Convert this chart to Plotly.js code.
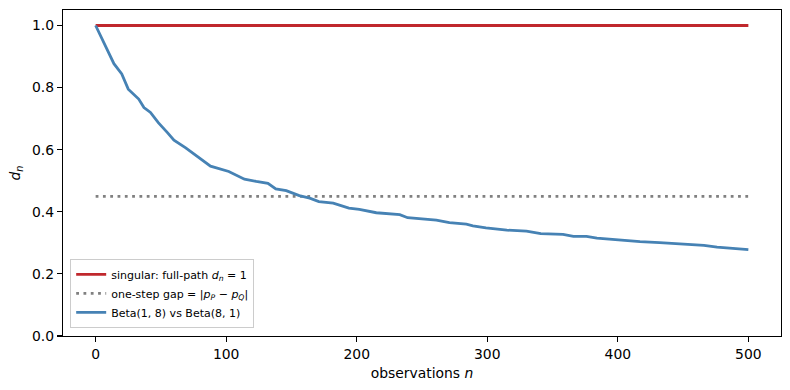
<!DOCTYPE html>
<html>
<head>
<meta charset="utf-8">
<script src="https://cdn.plot.ly/plotly-3.0.1.min.js"></script>
<style>html,body{margin:0;padding:0;background:#fff;}#chart{width:790px;height:390px;}</style>
</head>
<body>
<div id="chart"></div>
<script>
// Blue sample path: Beta(1,8) vs Beta(8,1)
const betaN = [0, 6, 14, 20, 25, 33, 37, 42, 48, 55, 60, 69, 79, 88, 102, 107, 114, 123, 132, 138, 146, 156, 164, 171, 182, 194, 202, 215, 233, 239, 261, 271, 284, 289, 299, 315, 330, 341, 358, 366, 376, 384, 402, 417, 432, 445, 453, 466, 476, 486, 500];
const betaD = [1.0, 0.947, 0.877, 0.844, 0.795, 0.763, 0.736, 0.72, 0.687, 0.655, 0.631, 0.606, 0.574, 0.547, 0.53, 0.519, 0.505, 0.498, 0.492, 0.474, 0.468, 0.452, 0.444, 0.433, 0.428, 0.412, 0.408, 0.397, 0.391, 0.381, 0.373, 0.365, 0.36, 0.355, 0.348, 0.341, 0.338, 0.33, 0.327, 0.321, 0.321, 0.315, 0.308, 0.304, 0.301, 0.298, 0.294, 0.292, 0.286, 0.282, 0.278];
// Singular full-path line and one-step gap
const singularN = [0, 500];
const singularD = [1, 1];
const gapN = [0, 500];
const gapD = [0.45, 0.45];
const xTicks = [0, 100, 200, 300, 400, 500];
const yTicks = [0, 0.2, 0.4, 0.6, 0.8, 1.0];

const traces = [
  {x: singularN, y: singularD, mode: 'lines', name: 'singular: full-path <i>d</i><sub><i>n</i></sub> = 1',
   line: {color: '#c0282d', width: 2.8}},
  {x: gapN, y: gapD, mode: 'lines', name: 'one-step gap = |<i>p</i><sub><i>P</i></sub> − <i>p</i><sub><i>Q</i></sub>|',
   line: {color: '#808080', width: 2.8, dash: '2.8px,4.5px'}},
  {x: betaN, y: betaD, mode: 'lines', name: 'Beta(1, 8) vs Beta(8, 1)',
   line: {color: '#4682b4', width: 2.8}}
];

const axisCommon = {
  showgrid: false, zeroline: false, showline: true, mirror: true,
  linecolor: '#000', linewidth: 1.1, ticks: 'outside', ticklen: 5, tickwidth: 1.1, tickcolor: '#000',
  tickfont: {size: 13.9, color: '#000'}
};

const layout = {
  width: 790, height: 390,
  margin: {l: 63, r: 9, t: 10, b: 54},
  paper_bgcolor: '#fff', plot_bgcolor: '#fff',
  font: {family: 'DejaVu Sans', size: 13.9, color: '#000'},
  showlegend: true,
  xaxis: Object.assign({}, axisCommon, {
    range: [-25, 525], tickvals: xTicks, ticktext: xTicks.map(String),
    title: {text: 'observations <i>n</i>', font: {size: 13.9}, standoff: 7}
  }),
  yaxis: Object.assign({}, axisCommon, {
    range: [0, 1.05], tickvals: yTicks, ticktext: yTicks.map(v => v.toFixed(1)),
    title: {text: '<i>d</i><sub><i>n</i></sub>', font: {size: 13.9}, standoff: 8}
  }),
  legend: {
    x: 0.01, y: 0.025, xanchor: 'left', yanchor: 'bottom',
    bgcolor: 'rgba(255,255,255,0.8)', bordercolor: '#cccccc', borderwidth: 1,
    font: {size: 11, color: '#000'}, itemwidth: 30, tracegroupgap: 0
  }
};

Plotly.newPlot('chart', traces, layout, {staticPlot: true, displayModeBar: false});
</script>
</body>
</html>
